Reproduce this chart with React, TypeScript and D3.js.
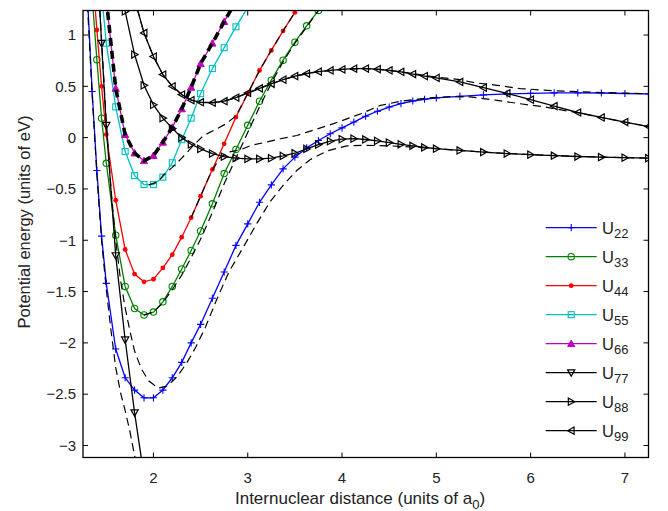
import React from 'react';
import * as d3 from 'd3';

// Internuclear distance grid (units of a0)
const R = [1.25, 1.3, 1.35, 1.4, 1.45, 1.5, 1.6, 1.7, 1.8, 1.9, 2.0, 2.1, 2.2, 2.3, 2.4, 2.5, 2.625, 2.75, 2.875, 3.0, 3.125, 3.25, 3.375, 3.5, 3.625, 3.75, 3.875, 4.0, 4.125, 4.25, 4.375, 4.5, 4.625, 4.75, 4.875, 5.0, 5.25, 5.5, 5.75, 6.0, 6.25, 6.5, 6.75, 7.0, 7.25];

const U22 = [2.4, 1.38, 0.45, -0.32, -0.96, -1.42, -2.06, -2.34, -2.46, -2.535, -2.535, -2.46, -2.34, -2.19, -2.0, -1.82, -1.565, -1.31, -1.05, -0.84, -0.63, -0.46, -0.304, -0.19, -0.10, -0.028, 0.038, 0.095, 0.152, 0.209, 0.257, 0.298, 0.332, 0.357, 0.374, 0.387, 0.403, 0.416, 0.426, 0.432, 0.436, 0.437, 0.435, 0.43, 0.426];
const U33 = [null, 2.3, 1.37, 0.76, 0.19, -0.25, -0.95, -1.45, -1.665, -1.728, -1.70, -1.60, -1.45, -1.28, -1.10, -0.91, -0.645, -0.35, -0.115, 0.12, 0.355, 0.56, 0.755, 0.93, 1.09, 1.24, 1.39, null, null, null, null, null, null, null, null, null, null, null, null, null, null, null, null, null, null];
const U44 = [null, null, 1.65, 1.05, 0.5, 0.03, -0.61, -1.09, -1.33, -1.405, -1.38, -1.27, -1.14, -0.97, -0.78, -0.57, -0.31, -0.06, 0.20, 0.43, 0.655, 0.85, 1.04, 1.22, 1.40, null, null, null, null, null, null, null, null, null, null, null, null, null, null, null, null, null, null, null, null];
const U55 = [null, null, null, 2.0, 1.4, 0.92, 0.30, -0.135, -0.37, -0.457, -0.457, -0.385, -0.245, -0.02, 0.19, 0.43, 0.673, 0.876, 1.08, 1.27, null, null, null, null, null, null, null, null, null, null, null, null, null, null, null, null, null, null, null, null, null, null, null, null, null];
const U66 = [null, null, null, null, 2.0, 1.35, 0.48, 0.03, -0.15, -0.225, -0.175, -0.045, 0.10, 0.28, 0.49, 0.72, 0.92, 1.13, 1.33, null, null, null, null, null, null, null, null, null, null, null, null, null, null, null, null, null, null, null, null, null, null, null, null, null, null];
const U77 = [null, null, null, 1.8, 0.92, 0.12, -1.15, -1.97, -2.68, -3.3, null, null, null, null, null, null, null, null, null, null, null, null, null, null, null, null, null, null, null, null, null, null, null, null, null, null, null, null, null, null, null, null, null, null, null];
const U88 = [null, null, null, null, null, null, 1.8, 1.23, 0.81, 0.51, 0.32, 0.19, 0.09, 0.0, -0.065, -0.11, -0.155, -0.185, -0.2, -0.207, -0.207, -0.2, -0.178, -0.152, -0.11, -0.068, -0.035, -0.015, -0.01, -0.018, -0.032, -0.048, -0.065, -0.08, -0.096, -0.108, -0.125, -0.141, -0.155, -0.166, -0.176, -0.184, -0.19, -0.195, -0.2];
const U99 = [null, null, null, null, null, null, null, 1.75, 1.35, 1.02, 0.79, 0.615, 0.50, 0.42, 0.365, 0.345, 0.34, 0.355, 0.39, 0.435, 0.48, 0.525, 0.565, 0.60, 0.625, 0.643, 0.655, 0.665, 0.672, 0.673, 0.667, 0.656, 0.641, 0.62, 0.60, 0.582, 0.543, 0.487, 0.432, 0.37, 0.307, 0.245, 0.197, 0.152, 0.108];

// Adiabatic (dashed) curves
const A1_X = [1.3, 1.35, 1.4, 1.45, 1.5, 1.55, 1.6, 1.65, 1.7, 1.75, 1.8, 1.85];
const A1_Y = [1.3, 0.42, -0.36, -1.0, -1.48, -1.88, -2.24, -2.48, -2.66, -2.86, -3.1, -3.3];
const A2_X = [1.43, 1.45, 1.5, 1.55, 1.6, 1.65, 1.7, 1.75, 1.8, 1.87, 1.95, 2.05, 2.15, 2.25, 2.35, 2.45, 2.55, 2.67, 2.8, 2.97, 3.1, 3.24, 3.38, 3.52, 3.66, 3.84, 4.05, 4.26, 4.5, 4.76, 5.0, 5.5, 6.0, 6.5, 7.0, 7.25];
const A2_Y = [1.25, 0.95, 0.15, -0.5, -1.0, -1.38, -1.66, -1.88, -2.08, -2.25, -2.37, -2.44, -2.42, -2.33, -2.2, -2.04, -1.85, -1.58, -1.31, -1.04, -0.83, -0.62, -0.46, -0.32, -0.215, -0.13, -0.08, -0.075, -0.08, -0.092, -0.108, -0.141, -0.166, -0.184, -0.195, -0.2];
const A3_X = [1.95, 2.05, 2.1, 2.2, 2.3, 2.42, 2.53, 2.64, 2.76, 2.875, 3.0, 3.125, 3.25, 3.375, 3.5, 3.6];
const A3_Y = [-0.46, -0.43, -0.37, -0.29, -0.2, -0.08, 0.02, 0.07, 0.13, 0.21, 0.43, 0.655, 0.85, 1.04, 1.22, 1.37];
const A4_X = [2.4, 2.5, 2.6, 2.7, 2.8, 2.92, 3.03, 3.2, 3.345, 3.52, 3.63, 3.91, 4.2, 4.41, 4.62, 4.9, 5.15, 5.36, 5.645, 5.89, 6.14, 6.35, 6.5, 6.75, 7.0, 7.25];
const A4_Y = [-0.78, -0.57, -0.36, -0.2, -0.14, -0.12, -0.077, -0.043, -0.011, 0.021, 0.054, 0.136, 0.233, 0.315, 0.354, 0.385, 0.40, 0.397, 0.363, 0.33, 0.30, 0.266, 0.243, 0.197, 0.152, 0.108];
const A5_X = [1.83, 1.9, 2.0, 2.1, 2.2, 2.3, 2.4, 2.5, 2.625, 2.75, 2.875, 3.0, 3.25, 3.5, 3.75, 4.0, 4.25, 4.5, 4.75, 5.0, 5.25, 5.4, 5.645, 5.89, 6.175, 6.42, 6.75, 7.0, 7.25];
const A5_Y = [1.25, 1.02, 0.79, 0.615, 0.50, 0.42, 0.365, 0.345, 0.34, 0.355, 0.39, 0.435, 0.525, 0.60, 0.643, 0.665, 0.673, 0.656, 0.625, 0.59, 0.565, 0.536, 0.51, 0.478, 0.461, 0.45, 0.44, 0.433, 0.428];
const A6_X = [1.5, 1.6, 1.7, 1.8, 1.9, 2.0, 2.1, 2.2, 2.3, 2.4, 2.5, 2.625, 2.75, 2.875];
const A6_Y = [1.35, 0.48, 0.03, -0.15, -0.225, -0.175, -0.045, 0.10, 0.28, 0.49, 0.72, 0.92, 1.13, 1.33];
const A7_X = [1.9, 2.0, 2.1, 2.2, 2.3, 2.4, 2.5, 2.625, 2.75, 2.875, 3.0, 3.125, 3.25, 3.375, 3.5, 3.625, 3.75, 3.875];
const A7_Y = [-1.73, -1.70, -1.61, -1.48, -1.34, -1.17, -0.99, -0.73, -0.45, -0.2, 0.05, 0.3, 0.53, 0.74, 0.92, 1.08, 1.24, 1.39];

const X_TICKS = [2, 3, 4, 5, 6, 7];
const Y_TICKS = [-3, -2.5, -2, -1.5, -1, -0.5, 0, 0.5, 1];
const SUBS = ['22', '33', '44', '55', '66', '77', '88', '99'];

const SERIES = [
  { name: 'U22', values: U22, color: '#0000ff', marker: 'plus' },
  { name: 'U33', values: U33, color: '#008000', marker: 'circle' },
  { name: 'U44', values: U44, color: '#ff0000', marker: 'dot' },
  { name: 'U55', values: U55, color: '#00bfbf', marker: 'square' },
  { name: 'U66', values: U66, color: '#bf00bf', marker: 'up' },
  { name: 'U77', values: U77, color: '#000000', marker: 'down' },
  { name: 'U88', values: U88, color: '#000000', marker: 'right' },
  { name: 'U99', values: U99, color: '#000000', marker: 'left' },
];

const DASHED = [
  { xs: A1_X, ys: A1_Y, w: 1.2 },
  { xs: A2_X, ys: A2_Y, w: 1.2 },
  { xs: A3_X, ys: A3_Y, w: 1.2 },
  { xs: A4_X, ys: A4_Y, w: 1.2 },
  { xs: A5_X, ys: A5_Y, w: 1.2 },
  { xs: A6_X, ys: A6_Y, w: 3.6 },
  { xs: A7_X, ys: A7_Y, w: 1.2 },
];

const FONT = '"Liberation Sans", Arial, Helvetica, sans-serif';

function Marker({ type, cx, cy, color }: { type: string; cx: number; cy: number; color: string }) {
  const s = 3.6;
  const t = `translate(${cx},${cy})`;
  switch (type) {
    case 'plus':
      return <path transform={t} d={`M${-s},0H${s}M0,${-s}V${s}`} stroke={color} strokeWidth={1.1} fill="none" />;
    case 'circle':
      return <circle cx={cx} cy={cy} r={3.2} stroke={color} strokeWidth={1.1} fill="none" />;
    case 'dot':
      return <circle cx={cx} cy={cy} r={2.4} fill={color} stroke="none" />;
    case 'square':
      return <rect x={cx - 3} y={cy - 3} width={6} height={6} stroke={color} strokeWidth={1.1} fill="none" />;
    case 'up':
      return <path transform={t} d={`M0,${-s}L${s},${s * 0.8}L${-s},${s * 0.8}Z`} stroke={color} strokeWidth={1} fill={color} />;
    case 'down':
      return <path transform={t} d={`M0,${s}L${s},${-s * 0.8}L${-s},${-s * 0.8}Z`} stroke={color} strokeWidth={1.2} fill="none" />;
    case 'right':
      return <path transform={t} d={`M${s},0L${-s * 0.8},${-s}L${-s * 0.8},${s}Z`} stroke={color} strokeWidth={1.2} fill="none" />;
    case 'left':
      return <path transform={t} d={`M${-s},0L${s * 0.8},${-s}L${s * 0.8},${s}Z`} stroke={color} strokeWidth={1.2} fill="none" />;
    default:
      return null;
  }
}

export default function App() {
  const L = 83, Rt = 648.5, T = 10.5, B = 457.5;
  const x = d3.scaleLinear().domain([1.253, 7.25]).range([L, Rt]);
  const y = d3.scaleLinear().domain([-3.117, 1.239]).range([B, T]);

  const lineGen = d3
    .line<[number, number | null]>()
    .defined((d) => d[1] != null)
    .x((d) => x(d[0]))
    .y((d) => y(d[1] as number));

  const fmt = (v: number) => (v < 0 ? '\u2212' + String(Math.abs(v)) : String(v));

  const legendX0 = 545.7, legendX1 = 596.7, legendY0 = 227.7, legendDy = 29;

  return (
    <svg width={668} height={511} style={{ position: 'absolute', left: 0, top: 0, display: 'block', background: '#fff' }} fontFamily={FONT}>
      <defs>
        <clipPath id="plotclip">
          <rect x={L} y={T} width={Rt - L} height={B - T} />
        </clipPath>
      </defs>
      <rect x={0} y={0} width={668} height={511} fill="#fff" />
      <g clipPath="url(#plotclip)">
        {SERIES.map((s) => {
          const pts = R.map((r, i) => [r, s.values[i]] as [number, number | null]);
          return (
            <g key={s.name}>
              <path d={lineGen(pts) || ''} stroke={s.color} strokeWidth={1.3} fill="none" />
              {pts
                .filter((p) => p[1] != null)
                .map((p, i) => (
                  <Marker key={i} type={s.marker} cx={x(p[0])} cy={y(p[1] as number)} color={s.color} />
                ))}
            </g>
          );
        })}
        {DASHED.map((dsh, k) => {
          const pts = dsh.xs.map((v, i) => [v, dsh.ys[i]] as [number, number | null]);
          return <path key={k} d={lineGen(pts) || ''} stroke="#000" strokeWidth={dsh.w} strokeDasharray="8,5" fill="none" />;
        })}
      </g>
      {/* axes box */}
      <rect x={L} y={T} width={Rt - L} height={B - T} fill="none" stroke="#000" strokeWidth={1.3} />
      {X_TICKS.map((t) => (
        <g key={'x' + t}>
          <line x1={x(t)} x2={x(t)} y1={B} y2={B - 5} stroke="#000" strokeWidth={1} />
          <line x1={x(t)} x2={x(t)} y1={T} y2={T + 5} stroke="#000" strokeWidth={1} />
          <text x={x(t)} y={483} textAnchor="middle" fontSize={15} fill="#222">
            {fmt(t)}
          </text>
        </g>
      ))}
      {Y_TICKS.map((t) => (
        <g key={'y' + t}>
          <line x1={L} x2={L + 5} y1={y(t)} y2={y(t)} stroke="#000" strokeWidth={1} />
          <line x1={Rt} x2={Rt - 5} y1={y(t)} y2={y(t)} stroke="#000" strokeWidth={1} />
          <text x={76} y={y(t) + 5.3} textAnchor="end" fontSize={15} fill="#222">
            {fmt(t)}
          </text>
        </g>
      ))}
      <text x={360} y={504} textAnchor="middle" fontSize={17} fill="#222">
        Internuclear distance (units of a<tspan fontSize={13} dy={5}>0</tspan>
        <tspan dy={-5}>)</tspan>
      </text>
      <text transform="translate(30,222) rotate(-90)" textAnchor="middle" fontSize={16.5} fill="#222">
        Potential energy (units of eV)
      </text>
      {/* legend */}
      {SERIES.map((s, i) => {
        const ly = legendY0 + i * legendDy;
        return (
          <g key={'lg' + s.name}>
            <line x1={legendX0} x2={legendX1} y1={ly} y2={ly} stroke={s.color} strokeWidth={1.3} />
            <Marker type={s.marker} cx={(legendX0 + legendX1) / 2} cy={ly} color={s.color} />
            <text x={602} y={ly + 6.3} fontSize={16.5} fill="#222">
              U<tspan fontSize={13} dy={4.3}>{SUBS[i]}</tspan>
            </text>
          </g>
        );
      })}
    </svg>
  );
}
